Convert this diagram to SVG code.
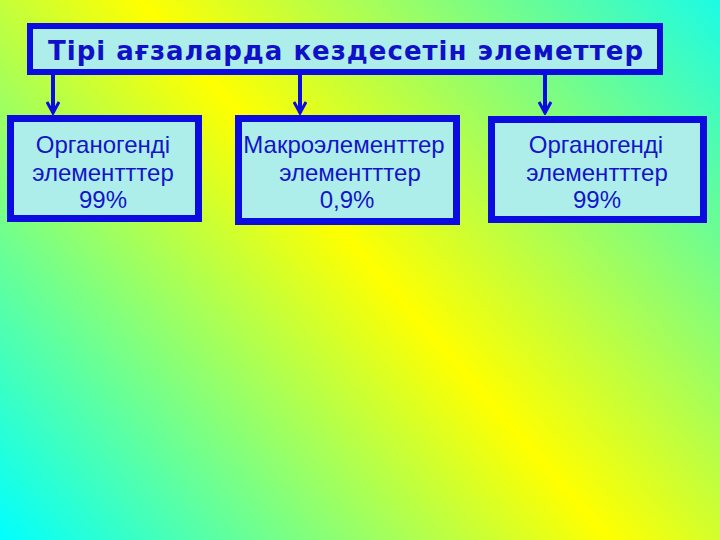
<svg xmlns="http://www.w3.org/2000/svg" width="720" height="540" viewBox="0 0 720 540">
<defs>
<linearGradient id="bg" gradientUnits="userSpaceOnUse" x1="-7" y1="532" x2="687" y2="-72">
<stop offset="0" stop-color="#00ffff"/>
<stop offset="0.5" stop-color="#ffff00"/>
<stop offset="1" stop-color="#10fbf0"/>
</linearGradient>
<marker id="chev" viewBox="0 0 14 14" refX="12" refY="7" markerWidth="14" markerHeight="14" markerUnits="userSpaceOnUse" orient="auto">
<path d="M1,1 L12,7 L1,13" fill="none" stroke="#0c0ce0" stroke-width="3"/>
</marker>
<style>
.box{fill:#aeeeea;stroke:#0c0ce0;stroke-width:7}
.title{fill:#aeeeea;stroke:#0c0ce0;stroke-width:6}
.tt{font-family:"DejaVu Sans",sans-serif;font-weight:bold;font-size:26px;fill:#1010c8}
.t{font-family:"Liberation Sans",Arial,sans-serif;font-size:24px;fill:#1414c8;text-anchor:middle}
.c{stroke:#0c0ce0;stroke-width:4;fill:none}
</style>
</defs>
<rect width="720" height="540" fill="url(#bg)"/>
<g id="title">
<rect class="title" x="30" y="26" width="630" height="46"/>
<text class="tt" x="48" y="60" textLength="595" lengthAdjust="spacing">Тірі ағзаларда кездесетін элеметтер</text>
</g>
<g id="connectors">
<line class="c" x1="53" y1="75" x2="53" y2="113" marker-end="url(#chev)"/>
<line class="c" x1="300" y1="75" x2="300" y2="113" marker-end="url(#chev)"/>
<line class="c" x1="545" y1="75" x2="545" y2="113" marker-end="url(#chev)"/>
</g>
<g id="box1">
<rect class="box" x="10.5" y="118.5" width="188" height="100"/>
<text class="t" x="103" y="153">Органогенді</text>
<text class="t" x="103" y="181">элементттер</text>
<text class="t" x="103" y="208">99%</text>
</g>
<g id="box2">
<rect class="box" x="238.5" y="118.5" width="218" height="103"/>
<text class="t" x="344" y="153">Макроэлементтер</text>
<text class="t" x="350" y="181">элементттер</text>
<text class="t" x="347" y="208">0,9%</text>
</g>
<g id="box3">
<rect class="box" x="491.5" y="119.5" width="212" height="100"/>
<text class="t" x="596" y="153">Органогенді</text>
<text class="t" x="597" y="181">элементттер</text>
<text class="t" x="597" y="208">99%</text>
</g>
</svg>
